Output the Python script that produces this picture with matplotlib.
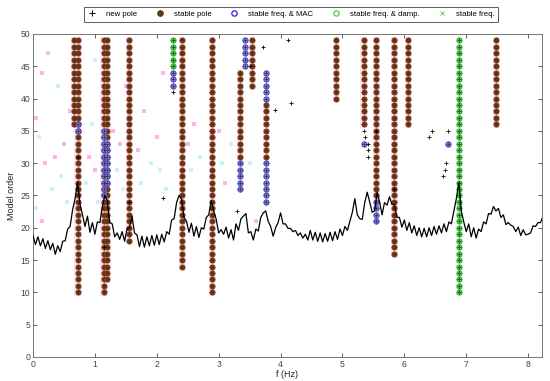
import matplotlib
matplotlib.use("Agg")
import matplotlib.pyplot as plt
import numpy as np

# spectrum (scaled to model-order axis), sampled every 0.04 Hz
spec_f0, spec_df = 0.0, 0.04
spec = [18.8, 17.4, 18.6, 17.2, 18.3, 16.8, 18.0, 16.6, 17.6, 15.9,
        17.2, 16.3, 17.9, 18.0, 19.8, 20.2, 22.8, 24.5, 27.0, 23.6,
        22.0, 20.2, 21.8, 19.3, 20.8, 19.0, 20.9, 20.8, 23.2, 25.0,
        24.2, 20.8, 20.6, 18.6, 19.2, 18.2, 19.4, 17.9, 19.9, 20.0,
        21.8, 19.2, 18.9, 17.1, 18.7, 17.0, 18.6, 17.2, 18.8, 17.3,
        18.9, 17.4, 19.0, 17.8, 19.4, 19.0, 21.2, 21.4, 23.9, 25.0,
        24.4, 21.6, 21.0, 19.3, 20.7, 18.7, 20.2, 18.5, 20.0, 19.8,
        21.6, 22.0, 24.2, 22.6, 21.3, 19.2, 19.7, 19.0, 20.1, 18.4,
        19.7, 18.1, 20.6, 19.6, 21.4, 21.8, 22.2, 19.2, 19.4, 18.1,
        19.8, 19.5, 21.6, 22.3, 22.6, 21.0, 20.2, 18.7, 20.0, 20.8,
        22.3, 20.6, 20.6, 19.9, 19.9, 19.4, 19.6, 18.8, 19.2, 18.4,
        19.0, 18.1, 19.6, 18.1, 19.3, 17.9, 19.2, 17.8, 19.1, 17.9,
        19.3, 18.0, 19.4, 18.2, 19.8, 18.8, 20.2, 19.6, 21.0, 22.4,
        24.5, 22.0, 21.4, 21.3, 23.9, 25.5, 24.0, 22.4, 22.6, 25.5,
        24.0, 22.0, 23.9, 23.5, 24.8, 23.6, 23.6, 21.6, 21.6, 20.1,
        21.2, 19.6, 20.8, 19.2, 20.3, 18.8, 20.0, 18.6, 19.9, 18.6,
        20.0, 18.8, 20.2, 19.0, 20.3, 19.2, 20.6, 19.4, 20.9, 20.6,
        22.6, 24.5, 27.0, 22.6, 20.9, 19.4, 20.6, 18.6, 20.0, 18.4,
        19.8, 19.4, 20.9, 20.6, 22.2, 22.1, 23.3, 22.6, 23.0, 21.6,
        22.0, 20.5, 20.8, 20.4, 20.2, 19.4, 20.1, 18.8, 19.7, 18.9,
        19.0, 19.2, 20.3, 20.2, 20.8, 20.8, 21.8]

# stable pole columns: frequency, lowest order, highest order
col_f = [0.72, 0.66, 1.14, 1.20, 1.55, 2.41, 2.89, 3.34, 3.54, 3.76,
         4.90, 5.34, 5.55, 5.84, 6.06, 7.48]
col_lo = [10, 36, 10, 12, 18, 14, 10, 31, 42, 31, 40, 36, 25, 16, 36, 36]
col_hi = [49, 49, 49, 49, 49, 49, 49, 44, 49, 39, 49, 49, 49, 49, 49, 49]

# stable freq. & MAC segments
mac_f = [0.72, 1.14, 1.20, 2.26, 3.34, 3.42, 3.76, 3.76, 5.55, 5.34, 6.70]
mac_lo = [35, 25, 27, 42, 26, 45, 24, 40, 21, 33, 33]
mac_hi = [36, 35, 33, 44, 30, 49, 30, 44, 24, 33, 33]

# stable freq. & damping segments
damp_f = [2.26, 6.88]
damp_lo = [45, 10]
damp_hi = [49, 49]

# new poles
new_f = [2.10, 3.30, 3.50, 3.72, 3.91, 4.12, 4.17, 5.35, 5.37, 5.41, 5.41,
         5.41, 5.55, 5.84, 6.40, 6.45, 6.70, 6.68, 6.66, 6.62, 2.26, 1.55,
         0.72, 1.14]
new_o = [24.6, 22.6, 45, 48, 38.2, 49, 39.3, 35, 34, 33, 32, 31, 35, 26,
         34, 35, 35, 30, 29, 28, 41, 24, 31, 17]

# faint unstable poles
faint_f = [0.05, 0.10, 0.20, 0.30, 0.35, 0.45, 0.50, 0.55, 0.60, 0.85, 0.90,
           0.95, 1.00, 1.05, 1.30, 1.35, 1.40, 1.45, 1.70, 1.75, 1.80, 1.90,
           2.00, 2.05, 2.10, 2.15, 2.50, 2.55, 2.60, 2.70, 3.00, 3.05, 3.10,
           3.20, 0.15, 0.40, 0.25, 1.00, 1.50, 0.05, 0.15, 3.50, 3.60]
faint_o = [37, 34, 30, 26, 31, 28, 33, 24, 38, 27, 31, 36, 29, 24, 35, 29,
           33, 26, 32, 27, 38, 30, 34, 29, 44, 26, 33, 29, 36, 31, 35, 30,
           27, 33, 44, 42, 47, 46, 42, 23, 21, 30, 21]


def expand(fs, los, his):
    ff, oo = [], []
    for f, lo, hi in zip(fs, los, his):
        for o in range(lo, hi + 1):
            ff.append(f)
            oo.append(o)
    return ff, oo


plt.rcParams['font.family'] = ['Liberation Sans', 'DejaVu Sans']
fig = plt.figure(figsize=(5.5, 3.81), dpi=100)
ax = fig.add_axes([0.06, 0.063, 0.925, 0.848])

# pink bands behind stable columns
for f, lo, hi in zip(col_f, col_lo, col_hi):
    ax.fill_between([f - 0.05, f + 0.05], lo - 0.5, hi + 0.5,
                    color='#fde4ef', lw=0, zorder=0)

ax.scatter(faint_f[::2], faint_o[::2], marker='s', s=6, color='#ffb3f0', lw=0, zorder=1)
ax.scatter(faint_f[1::2], faint_o[1::2], marker='s', s=9, color='#c9f3f8', lw=0, zorder=1)

sf, so = expand(col_f, col_lo, col_hi)
mf, mo = expand(mac_f, mac_lo, mac_hi)
df_, do = expand(damp_f, damp_lo, damp_hi)

ax.plot(sf, so, 'o', ms=3.8, mfc='#573614', mec='#983c26', mew=0.6, ls='none', zorder=3)
ax.plot(mf, mo, 'o', ms=3.8, mfc='#8a80c8', mec='#4040d0', mew=0.7, ls='none', zorder=3)
ax.plot(df_, do, 'o', ms=3.8, mfc='#40dc40', mec='#22a022', mew=0.6, ls='none', zorder=3)
ax.plot(mf + df_, mo + do, '+', ms=3, color='#333333', mew=0.5, ls='none', zorder=3)
ax.plot(new_f, new_o, '+', ms=3.5, color='black', mew=0.6, ls='none', zorder=3)

freq = spec_f0 + spec_df * np.arange(len(spec))
ax.plot(freq, spec, color='black', lw=0.9, zorder=4)

# legend handles
h1, = ax.plot([], [], '+', color='black', ms=4, mew=0.7, ls='none')
h2, = ax.plot([], [], 'o', ms=3.8, mfc='#5a3a14', mec='#5a3a14', ls='none')
h3, = ax.plot([], [], 'o', ms=3.8, mfc='none', mec='#3838e0', mew=1.0, ls='none')
h4, = ax.plot([], [], 'o', ms=3.8, mfc='none', mec='#40c040', mew=0.8, ls='none')
h5, = ax.plot([], [], 'x', ms=3, color='#60d060', mew=0.7, ls='none')
leg = ax.legend([h1, h2, h3, h4, h5],
                ['new pole', 'stable pole', 'stable freq. & MAC',
                 'stable freq. & damp.', 'stable freq.'],
                ncol=5, loc='upper center', bbox_to_anchor=(0.507, 1.095),
                fontsize=5.6, frameon=True, fancybox=False, borderpad=0.45,
                handletextpad=1.1, columnspacing=2.3, handlelength=1.3)
leg.get_frame().set_edgecolor('#333333')
leg.get_frame().set_linewidth(0.7)

ax.set_xlim(0, 8.22)
ax.set_ylim(0, 50)
ax.set_xticks(range(0, 9))
ax.set_yticks(range(0, 51, 5))
ax.tick_params(direction='in', length=3, width=0.6, labelsize=6.2,
               colors='#444444', top=True, right=True, pad=2)
for s in ax.spines.values():
    s.set_color('#777777')
    s.set_linewidth(0.7)
ax.set_xlabel('f (Hz)', fontsize=6.5, color='#222222', labelpad=1)
ax.set_ylabel('Model order', fontsize=6.5, color='#222222', labelpad=3)

fig.savefig('out.png', dpi=100)
